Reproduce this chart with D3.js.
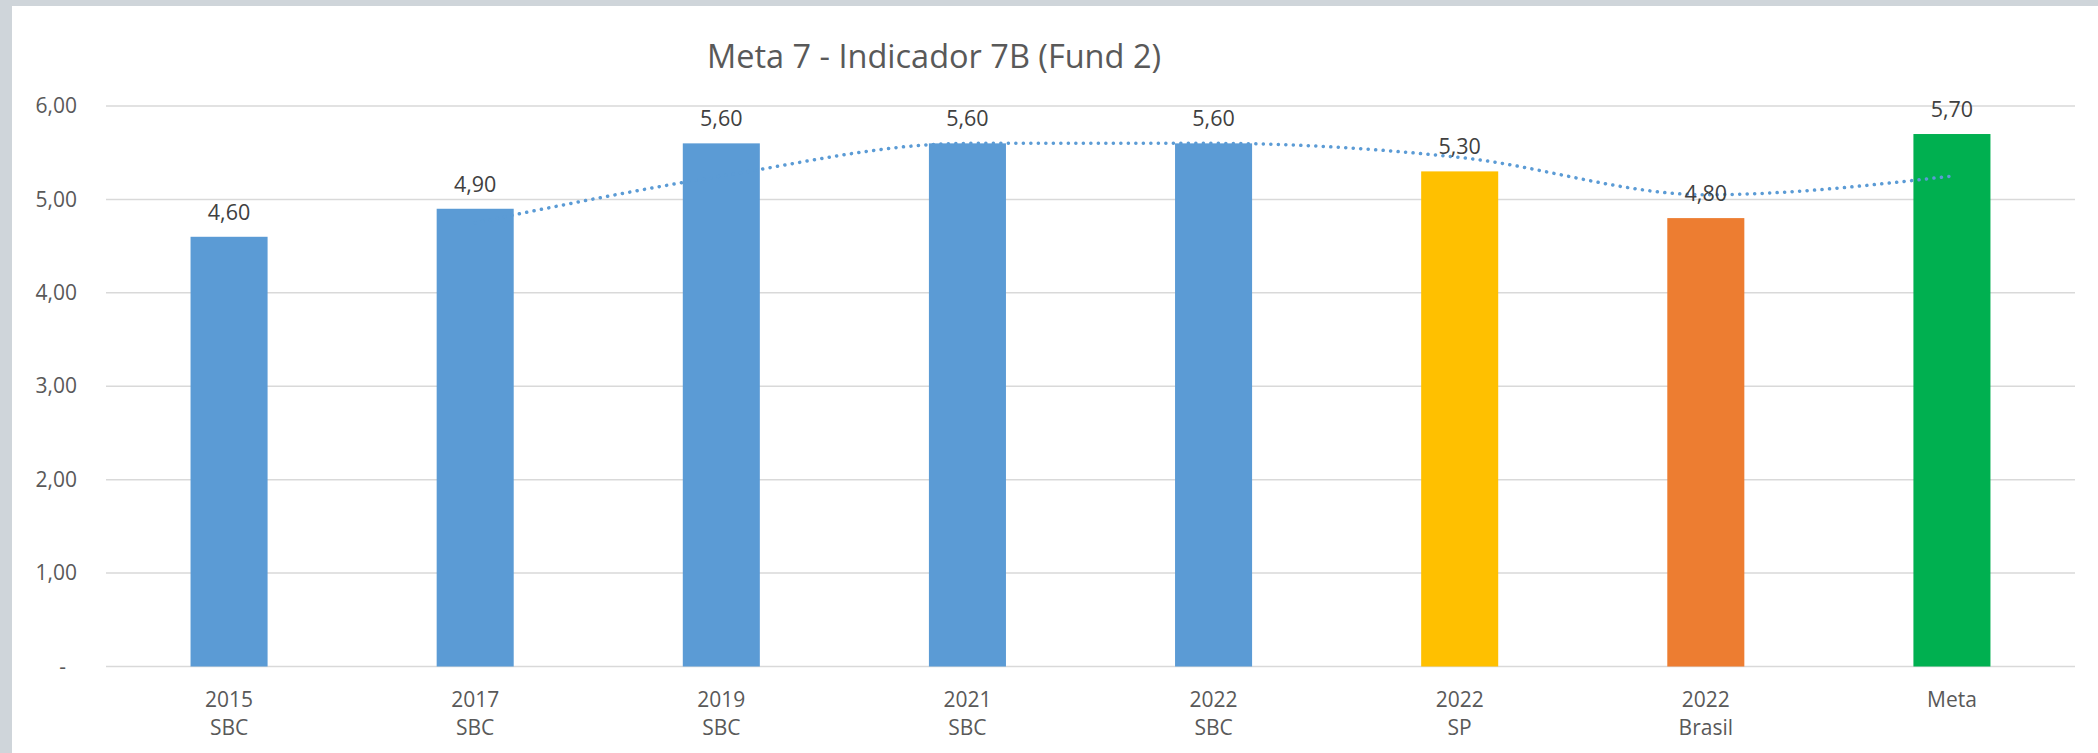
<!DOCTYPE html>
<html>
<head>
<meta charset="utf-8">
<script src="https://cdn.jsdelivr.net/npm/d3@7"></script>
<style>
  html, body { margin: 0; padding: 0; background: #cfd5da; }
  svg { display: block; font-family: "Open Sans", "Noto Sans", sans-serif; }
</style>
</head>
<body>
<div id="chart"></div>
<script>
const years = ['2015', '2017', '2019', '2021', '2022', '2022', '2022', 'Meta'];
const places = ['SBC', 'SBC', 'SBC', 'SBC', 'SBC', 'SP', 'Brasil', ''];
const values = [4.6, 4.9, 5.6, 5.6, 5.6, 5.3, 4.8, 5.7];
const barColors = ['#5b9bd5', '#5b9bd5', '#5b9bd5', '#5b9bd5', '#5b9bd5', '#ffc000', '#ed7d31', '#00b050'];
// dotted trend line (2-period moving average), starts at the 2nd category
const trendValues = [null, 4.75, 5.25, 5.6, 5.6, 5.45, 5.05, 5.25];
const yTicks = [0, 1, 2, 3, 4, 5, 6];
const title = 'Meta 7 - Indicador 7B (Fund 2)';

const width = 2098;
const height = 753;
const panelX = 12, panelY = 6;
const plotLeft = 106, plotRight = 2075;
const plotTop = 106, plotBottom = 666.5;

const fmt = v => v.toFixed(2).replace('.', ',');

const svg = d3.select('#chart').append('svg')
  .attr('width', width)
  .attr('height', height);

svg.append('rect')
  .attr('x', panelX).attr('y', panelY)
  .attr('width', width - panelX).attr('height', height - panelY)
  .attr('fill', '#fff');

const x = d3.scaleBand()
  .domain(d3.range(values.length))
  .range([plotLeft, plotRight])
  .paddingInner(0.687)
  .paddingOuter(0.3435);

const y = d3.scaleLinear()
  .domain([0, 6])
  .range([plotBottom, plotTop]);

// gridlines
svg.append('g')
  .selectAll('line')
  .data(yTicks)
  .enter().append('line')
  .attr('x1', plotLeft).attr('x2', plotRight)
  .attr('y1', d => y(d)).attr('y2', d => y(d))
  .attr('stroke', '#d9d9d9')
  .attr('stroke-width', 1.5);

// y axis labels
const yAxis = svg.append('g')
  .attr('transform', 'translate(' + plotLeft + ',0)')
  .call(d3.axisLeft(y).tickValues(yTicks).tickSize(0).tickPadding(29)
    .tickFormat(d => d === 0 ? '-' : fmt(d)));
yAxis.select('.domain').remove();
yAxis.selectAll('text')
  .attr('fill', '#595959')
  .attr('font-size', 21)
  .attr('font-family', '"Open Sans", sans-serif')
  .attr('dx', d => d === 0 ? -11 : 0);

// bars
svg.append('g')
  .selectAll('rect')
  .data(values)
  .enter().append('rect')
  .attr('x', (d, i) => x(i))
  .attr('width', x.bandwidth())
  .attr('y', d => y(d))
  .attr('height', d => y(0) - y(d))
  .attr('fill', (d, i) => barColors[i]);

// trend line
const trend = d3.line()
  .defined(d => d[1] !== null)
  .x(d => x(d[0]) + x.bandwidth() / 2)
  .y(d => y(d[1]))
  .curve(d3.curveMonotoneX);

svg.append('path')
  .datum(trendValues.map((v, i) => [i, v]))
  .attr('d', trend)
  .attr('fill', 'none')
  .attr('stroke', '#5b9bd5')
  .attr('stroke-width', 3.5)
  .attr('stroke-linecap', 'round')
  .attr('stroke-dasharray', '0.1 7.4');

// data labels
svg.append('g')
  .selectAll('text')
  .data(values)
  .enter().append('text')
  .attr('x', (d, i) => x(i) + x.bandwidth() / 2)
  .attr('y', d => y(d) - 17)
  .attr('text-anchor', 'middle')
  .attr('font-size', 21.5)
  .attr('fill', '#404040')
  .text(fmt);

// category labels
const cats = svg.append('g')
  .selectAll('text')
  .data(years)
  .enter().append('text')
  .attr('x', (d, i) => x(i) + x.bandwidth() / 2)
  .attr('y', 707)
  .attr('text-anchor', 'middle')
  .attr('font-size', 21)
  .attr('fill', '#595959');
cats.append('tspan').text(d => d);
cats.append('tspan')
  .attr('x', (d, i) => x(i) + x.bandwidth() / 2)
  .attr('dy', 28)
  .text((d, i) => places[i]);

// title
svg.append('text')
  .attr('x', 934)
  .attr('y', 68)
  .attr('text-anchor', 'middle')
  .attr('font-size', 32.5)
  .attr('fill', '#595959')
  .text(title);
</script>
</body>
</html>
